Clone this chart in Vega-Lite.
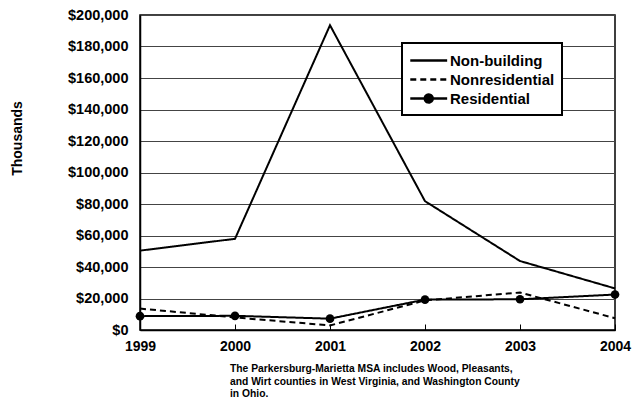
{
  "$schema": "https://vega.github.io/schema/vega-lite/v6.json",
  "width": 475,
  "height": 315,
  "autosize": "none",
  "padding": {"left": 140, "top": 15, "right": 22, "bottom": 70},
  "background": "white",
  "config": {
    "font": "Liberation Sans",
    "view": {"stroke": "black", "strokeWidth": 1.5}
  },
  "title": {
    "text": ["The Parkersburg-Marietta MSA includes Wood, Pleasants,", "and Wirt counties in West Virginia, and Washington County", "in Ohio."],
    "orient": "bottom",
    "anchor": "start",
    "frame": "group",
    "dx": 90,
    "offset": 11,
    "font": "Liberation Sans",
    "fontSize": 10.3,
    "fontWeight": "bold",
    "color": "black",
    "lineHeight": 12.5
  },
  "data": {
    "values": [
      {"year": 1999, "series": "Non-building", "value": 50400},
      {"year": 2000, "series": "Non-building", "value": 57900},
      {"year": 2001, "series": "Non-building", "value": 193500},
      {"year": 2002, "series": "Non-building", "value": 81800},
      {"year": 2003, "series": "Non-building", "value": 43800},
      {"year": 2004, "series": "Non-building", "value": 26400},
      {"year": 1999, "series": "Nonresidential", "value": 13600},
      {"year": 2000, "series": "Nonresidential", "value": 8000},
      {"year": 2001, "series": "Nonresidential", "value": 2900},
      {"year": 2002, "series": "Nonresidential", "value": 18800},
      {"year": 2003, "series": "Nonresidential", "value": 23800},
      {"year": 2004, "series": "Nonresidential", "value": 7500},
      {"year": 1999, "series": "Residential", "value": 8800},
      {"year": 2000, "series": "Residential", "value": 9000},
      {"year": 2001, "series": "Residential", "value": 7200},
      {"year": 2002, "series": "Residential", "value": 19300},
      {"year": 2003, "series": "Residential", "value": 19500},
      {"year": 2004, "series": "Residential", "value": 22500}
    ]
  },
  "encoding": {
    "x": {
      "field": "year",
      "type": "quantitative",
      "scale": {"domain": [1999, 2004], "nice": false, "zero": false},
      "axis": {
        "title": null,
        "values": [1999, 2000, 2001, 2002, 2003, 2004],
        "format": "d",
        "grid": false,
        "domainColor": "black",
        "domainWidth": 1.5,
        "tickColor": "black",
        "tickSize": -6,
        "labelPadding": 15,
        "labelFontSize": 14,
        "labelFontWeight": "bold",
        "labelColor": "black",
        "labelFlush": false
      }
    },
    "y": {
      "field": "value",
      "type": "quantitative",
      "scale": {"domain": [0, 200000], "nice": false},
      "axis": {
        "title": "Thousands",
        "titleFontSize": 14,
        "titleFontWeight": "bold",
        "titleColor": "black",
        "titlePadding": 43,
        "titleY": 123,
        "values": [0, 20000, 40000, 60000, 80000, 100000, 120000, 140000, 160000, 180000, 200000],
        "format": "$,.0f",
        "grid": true,
        "gridColor": "#444444",
        "gridWidth": 1,
        "ticks": false,
        "domainColor": "black",
        "domainWidth": 1.5,
        "labelPadding": 12,
        "labelFontSize": 14.5,
        "labelFontWeight": "bold",
        "labelColor": "black"
      }
    }
  },
  "layer": [
    {
      "mark": {"type": "line", "color": "black", "strokeWidth": 2},
      "encoding": {
        "strokeDash": {
          "field": "series",
          "type": "nominal",
          "scale": {
            "domain": ["Non-building", "Nonresidential", "Residential"],
            "range": [[1, 0], [6, 4], [1, 0]]
          },
          "legend": {
            "title": null,
            "orient": "none",
            "legendX": 262,
            "legendY": 28,
            "fillColor": "white",
            "strokeColor": "black",
            "padding": 7,
            "symbolType": "M-1,0H3",
            "symbolSize": 340,
            "symbolStrokeWidth": 2.5,
            "symbolStrokeColor": "black",
            "labelFontSize": 15,
            "labelFontWeight": "bold",
            "labelColor": "black",
            "labelOffset": 20,
            "rowPadding": 0,
            "encode": {
              "legend": {"update": {"strokeWidth": {"value": 2}}},
              "symbols": {
                "update": {
                  "stroke": {"value": "black"},
                  "strokeWidth": {"value": 2.5},
                  "shape": [
                    {"test": "datum.label === 'Residential'", "value": "M-1,0H3M0.57,0A0.43,0.43 0 1,1 1.43,0A0.43,0.43 0 1,1 0.57,0Z"},
                    {"value": "M-1,0H3"}
                  ],
                  "fill": [
                    {"test": "datum.label === 'Residential'", "value": "black"},
                    {"value": "transparent"}
                  ]
                }
              }
            }
          }
        },
        "detail": {"field": "series"}
      }
    },
    {
      "transform": [{"filter": "datum.series === 'Residential'"}],
      "mark": {"type": "point", "filled": true, "color": "black", "size": 75, "opacity": 1}
    }
  ]
}
